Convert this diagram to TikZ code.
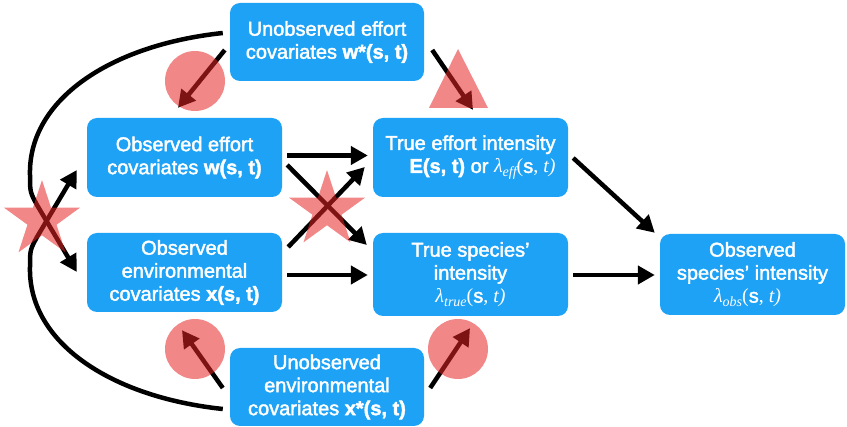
\documentclass[tikz,border=0pt]{standalone}
\usepackage{fontspec}
\setmainfont{Liberation Sans}[FakeBold=2]
\newfontfamily\tms{Liberation Serif}
\usetikzlibrary{arrows.meta,calc}
\definecolor{boxblue}{RGB}{30,162,246}
\definecolor{markred}{RGB}{231,36,36}
\newcommand{\lamst}[1]{{\tms\itshape λ}\raisebox{-0.35ex}{\tms\itshape\fontsize{14}{14}\selectfont #1}{\tms(}s{\tms, \itshape t)}}
\begin{document}
\begin{tikzpicture}[x=1pt,y=-1pt,
  box/.style={fill=boxblue, rounded corners=10pt, text=white, inner sep=0pt,
    font=\fontsize{20}{23}\selectfont, align=center},
  arr/.style={line width=4.5pt, -{Triangle[length=17pt,width=18pt]}},
  redmark/.style={fill=markred, fill opacity=0.55}
]
\useasboundingbox (0,0) rectangle (847,427);

% boxes
\node[box, minimum width=194pt, minimum height=78pt] (ws) at (327,42)
  {Unobserved effort\\covariates \textbf{w*(s, t)}};
\node[box, minimum width=195pt, minimum height=79pt] (w) at (184.5,157.5)
  {Observed effort\\covariates \textbf{w(s, t)}};
\node[box, minimum width=195pt, minimum height=79pt, align=right] (E) at (470.5,157.5)
  {True effort intensity\\\textbf{E(s, t)} or \lamst{eff}};
\node[box, minimum width=195pt, minimum height=79pt] (x) at (184.5,272.5)
  {Observed\\environmental\\covariates \textbf{x(s, t)}};
\node[box, minimum width=195pt, minimum height=83pt] (lt) at (470.5,274.5)
  {True species’\\intensity\\\lamst{true}};
\node[box, minimum width=194pt, minimum height=78pt] (xs) at (327,387)
  {Unobserved\\environmental\\covariates \textbf{x*(s, t)}};
\node[box, minimum width=185pt, minimum height=81pt] (lo) at (752.5,274.5)
  {Observed\\species’ intensity\\\lamst{obs}\hspace*{10pt}};

% straight arrows
\draw[arr] ($(w.east)+(5,-2)$) -- ($(E.west)+(-5,-2)$);
\draw[arr] ($(w.east)+(5,7.5)$) -- ($(lt.west)+(-6,-29.5)$);
\draw[arr] ($(x.east)+(6,-25.5)$) -- ($(E.west)+(-8,9.5)$);
\draw[arr] ($(x.east)+(5,2.5)$) -- ($(lt.west)+(-5,0.5)$);
\draw[arr] ($(E.east)+(5,0.5)$) -- ($(lo.north west)+(-5,-1)$);
\draw[arr] ($(lt.east)+(5,0.5)$) -- ($(lo.west)+(-5,0.5)$);
\draw[arr] ($(ws.west)+(-5,8)$) -- ($(w.north)+(-6.5,-10)$);
\draw[arr] ($(ws.east)+(8,8)$) -- ($(E.north)+(2.5,-8)$);
\draw[arr] ($(xs.west)+(-7,1)$) -- ($(x.south)+(-2.5,18)$);
\draw[arr] ($(xs.east)+(6,1)$) -- ($(lt.south)+(-0.5,12)$);

% curved connectors
\coordinate (c1a) at ($(ws.west)+(-7,-9)$);
\coordinate (c2a) at ($(xs.west)+(-7,22)$);
\draw[arr] (c1a) .. controls (110,45) and (28,100) .. (30,175)
  .. controls (30,192) .. (37,205) -- ($(x.west)+(-10,-0.5)$);
\draw[arr] (c2a) .. controls (110,397) and (28,342) .. (30,267)
  .. controls (30,250) .. (37,237) -- ($(w.west)+(-10,12.5)$);

% red marks
\fill[redmark] (195,81) circle[radius=30];
\fill[redmark] (195,349) circle[radius=30];
\fill[redmark] (458,349) circle[radius=30];
\fill[redmark] (458,49) -- (488,108) -- (429,108) -- cycle;
\fill[redmark] (42,220) +(-90:40) -- +(-54:15.3) -- +(-18:40) -- +(18:15.3)
  -- +(54:40) -- +(90:15.3) -- +(126:40) -- +(162:15.3) -- +(198:40)
  -- +(234:15.3) -- cycle;
\fill[redmark] (327,210) +(-90:40) -- +(-54:15.3) -- +(-18:40) -- +(18:15.3)
  -- +(54:40) -- +(90:15.3) -- +(126:40) -- +(162:15.3) -- +(198:40)
  -- +(234:15.3) -- cycle;
\end{tikzpicture}
\end{document}
